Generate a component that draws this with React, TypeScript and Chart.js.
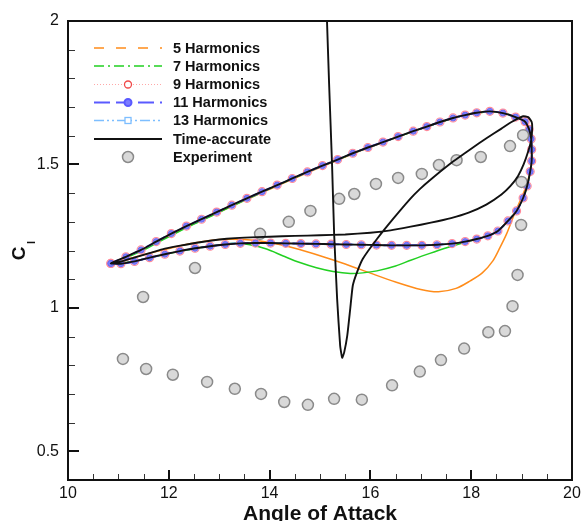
import React, { useEffect, useRef } from "react";
import { Chart, registerables } from "chart.js";

Chart.register(...registerables);

const FONT = '"Liberation Sans", Arial, Helvetica, sans-serif';

// ---- axes ----
const xMin = 10;
const xMax = 20;
const yMin = 0.4;
const yMax = 2;
const xMajorTicks = [10, 12, 14, 16, 18, 20];
const xTickLabels = ["10", "12", "14", "16", "18", "20"];
const xMinorTicks = [10.5, 11, 11.5, 12.5, 13, 13.5, 14.5, 15, 15.5, 16.5, 17, 17.5, 18.5, 19, 19.5];
const yMajorTicks = [0.5, 1, 1.5, 2];
const yTickLabels = ["0.5", "1", "1.5", "2"];
const yMinorTicks = [0.6, 0.7, 0.8, 0.9, 1.1, 1.2, 1.3, 1.4, 1.6, 1.7, 1.8, 1.9];
const xTitle = "Angle of Attack";
const yTitleMain = "C";
const yTitleSub = "l";

// ---- series ----
// 9 / 11 / 13 harmonics (coincident periodic loop)
const loopX = [10.85, 11.15, 11.45, 11.75, 12.05, 12.35, 12.65, 12.95, 13.25, 13.55,
  13.85, 14.15, 14.45, 14.75, 15.05, 15.35, 15.65, 15.95, 16.25, 16.55,
  16.85, 17.12, 17.38, 17.64, 17.88, 18.11, 18.37, 18.63, 18.88, 19.07,
  19.15, 19.19, 19.2, 19.2, 19.17, 19.11, 19.03, 18.9, 18.73, 18.53,
  18.33, 18.11, 17.88, 17.62, 17.32, 17.02, 16.72, 16.42, 16.12, 15.82,
  15.52, 15.22, 14.92, 14.62, 14.32, 14.02, 13.72, 13.42, 13.12, 12.82,
  12.52, 12.22, 11.92, 11.62, 11.32, 11.05, 10.85];
const loopY = [1.155, 1.178, 1.202, 1.231, 1.259, 1.285, 1.309, 1.334, 1.358, 1.382,
  1.405, 1.428, 1.451, 1.474, 1.496, 1.517, 1.539, 1.559, 1.578, 1.597,
  1.616, 1.632, 1.648, 1.662, 1.672, 1.68, 1.685, 1.679, 1.665, 1.649,
  1.622, 1.589, 1.552, 1.512, 1.475, 1.425, 1.383, 1.338, 1.303, 1.268,
  1.251, 1.24, 1.231, 1.224, 1.22, 1.218, 1.218, 1.218, 1.219, 1.22,
  1.221, 1.222, 1.223, 1.224, 1.225, 1.226, 1.226, 1.225, 1.221, 1.215,
  1.208, 1.198, 1.187, 1.175, 1.162, 1.154, 1.155];

// 5 harmonics
const h5X = [10.85, 11.15, 11.45, 11.75, 12.05, 12.35, 12.65, 12.95, 13.25, 13.55,
  13.85, 14.15, 14.45, 14.75, 15.05, 15.35, 15.65, 15.95, 16.25, 16.55,
  16.85, 17.12, 17.38, 17.64, 17.88, 18.11, 18.37, 18.63, 18.88, 19.07,
  19.15, 19.19, 19.2, 19.2, 19.16, 19.08, 18.97, 18.83, 18.7, 18.57,
  18.43, 18.22, 17.98, 17.7, 17.35, 17.0, 16.5, 16.0, 15.5, 15.0,
  14.5, 14.0, 13.5, 13.0, 12.5, 12.0, 11.5, 11.1, 10.85];
const h5Y = [1.155, 1.177, 1.2, 1.228, 1.255, 1.281, 1.305, 1.33, 1.354, 1.378,
  1.402, 1.425, 1.448, 1.471, 1.493, 1.515, 1.537, 1.557, 1.577, 1.596,
  1.615, 1.631, 1.647, 1.661, 1.671, 1.679, 1.684, 1.679, 1.665, 1.648,
  1.621, 1.588, 1.551, 1.51, 1.468, 1.42, 1.373, 1.315, 1.257, 1.21,
  1.164, 1.122, 1.094, 1.068, 1.056, 1.064, 1.09, 1.121, 1.153, 1.182,
  1.208, 1.228, 1.238, 1.238, 1.226, 1.207, 1.185, 1.166, 1.155];

// 7 harmonics
const h7X = [10.85, 11.15, 11.45, 11.75, 12.05, 12.35, 12.65, 12.95, 13.25, 13.55,
  13.85, 14.15, 14.45, 14.75, 15.05, 15.35, 15.65, 15.95, 16.25, 16.55,
  16.85, 17.12, 17.38, 17.64, 17.88, 18.11, 18.37, 18.63, 18.88, 19.07,
  19.15, 19.19, 19.2, 19.2, 19.17, 19.11, 19.03, 18.9, 18.73, 18.53,
  18.33, 18.11, 17.88, 17.58, 17.18, 16.8, 16.5, 16.13, 15.85, 15.6,
  15.26, 14.93, 14.6, 14.27, 13.94, 13.61, 13.3, 13.0, 12.7, 12.4,
  12.1, 11.8, 11.5, 11.2, 10.85];
const h7Y = [1.155, 1.175, 1.197, 1.225, 1.252, 1.279, 1.304, 1.329, 1.354, 1.379,
  1.403, 1.427, 1.45, 1.473, 1.495, 1.516, 1.538, 1.558, 1.577, 1.596,
  1.615, 1.631, 1.647, 1.661, 1.671, 1.679, 1.684, 1.679, 1.665, 1.649,
  1.622, 1.589, 1.552, 1.512, 1.475, 1.425, 1.383, 1.338, 1.303, 1.268,
  1.251, 1.24, 1.229, 1.213, 1.19, 1.166, 1.146, 1.129, 1.122, 1.12,
  1.127, 1.14, 1.158, 1.181, 1.205, 1.22, 1.225, 1.219, 1.212, 1.203,
  1.193, 1.182, 1.17, 1.16, 1.155];

// Time-accurate: start-up transient, first downstroke, then the periodic loop
const taStartX = [15.135, 15.18, 15.24, 15.28, 15.34, 15.4, 15.44, 15.48, 15.54, 15.6,
  15.65, 15.73, 15.85, 16.13, 16.45, 16.79, 16.98, 17.18, 17.64, 18.0,
  18.31, 18.6, 18.8, 19.03, 19.13, 19.2, 19.21, 19.19, 19.13, 19.04,
  18.93, 18.78, 18.6, 18.3, 17.95, 17.6, 17.2, 16.8, 16.4, 16.0,
  15.5, 15.0, 14.5, 14.0, 13.5, 13.15, 12.85, 12.52, 12.2, 11.87,
  11.6, 11.33, 11.1];
const taStartY = [2.02, 1.784, 1.495, 1.261, 1.031, 0.868, 0.826, 0.845, 0.902, 0.997,
  1.077, 1.122, 1.171, 1.24, 1.31, 1.38, 1.414, 1.445, 1.51, 1.555,
  1.592, 1.625, 1.648, 1.668, 1.665, 1.648, 1.627, 1.585, 1.545, 1.5,
  1.46, 1.425, 1.395, 1.36, 1.332, 1.313, 1.297, 1.283, 1.27, 1.262,
  1.256, 1.253, 1.251, 1.248, 1.245, 1.241, 1.235, 1.226, 1.216, 1.204,
  1.19, 1.176, 1.164];

// Experiment
const expX = [11.09, 11.49, 11.55, 12.08, 12.52, 12.76, 13.31, 13.81, 13.83, 14.29,
  14.38, 14.76, 14.81, 15.28, 15.38, 15.68, 15.83, 16.11, 16.43, 16.55,
  16.98, 17.02, 17.36, 17.4, 17.71, 17.86, 18.19, 18.34, 18.67, 18.77,
  18.82, 18.92, 18.99, 19.0, 19.03];
const expY = [0.822, 1.038, 0.787, 0.767, 1.139, 0.742, 0.718, 1.258, 0.7, 0.672,
  1.3, 0.662, 1.338, 0.683, 1.38, 1.397, 0.68, 1.432, 0.73, 1.453,
  0.778, 1.467, 1.498, 0.818, 1.515, 0.858, 1.526, 0.915, 0.919, 1.564,
  1.006, 1.115, 1.289, 1.439, 1.602];

// ---- legend ----
const legendLabels = ["5 Harmonics", "7 Harmonics", "9 Harmonics", "11 Harmonics", "13 Harmonics", "Time-accurate", "Experiment"];

const C5 = "#FF8C1A";
const C7 = "#22D022";
const C9 = "#F04848";
const C9LINE = "#FFA8A8";
const C11 = "#5A5AFF";
const C13 = "#7DBEFF";
const CTA = "#111111";

const pts = (xs: number[], ys: number[]) => xs.map((x, i) => ({ x, y: ys[i] }));

const axesPlugin = {
  id: "axesFrame",
  afterDatasetsDraw(chart: any) {
    const { ctx, chartArea: a, scales } = chart;
    const xs = scales.x;
    const ys = scales.y;
    ctx.save();
    // minor ticks
    ctx.strokeStyle = "#333";
    ctx.lineWidth = 1;
    xMinorTicks.forEach((v) => {
      const p = Math.round(xs.getPixelForValue(v)) + 0.5;
      ctx.beginPath();
      ctx.moveTo(p, a.bottom);
      ctx.lineTo(p, a.bottom - 6);
      ctx.stroke();
    });
    yMinorTicks.forEach((v) => {
      const p = Math.round(ys.getPixelForValue(v)) + 0.5;
      ctx.beginPath();
      ctx.moveTo(a.left, p);
      ctx.lineTo(a.left + 7, p);
      ctx.stroke();
    });
    // major ticks
    ctx.strokeStyle = "#111";
    ctx.lineWidth = 2;
    xMajorTicks.forEach((v) => {
      const p = Math.round(xs.getPixelForValue(v));
      ctx.beginPath();
      ctx.moveTo(p, a.bottom);
      ctx.lineTo(p, a.bottom - 10);
      ctx.stroke();
    });
    yMajorTicks.forEach((v) => {
      const p = Math.round(ys.getPixelForValue(v));
      ctx.beginPath();
      ctx.moveTo(a.left, p);
      ctx.lineTo(a.left + 11, p);
      ctx.stroke();
    });
    // frame
    ctx.lineWidth = 2;
    ctx.strokeRect(a.left, a.top, a.right - a.left, a.bottom - a.top);

    // tick labels
    ctx.fillStyle = "#111";
    ctx.font = `16px ${FONT}`;
    ctx.textAlign = "center";
    ctx.textBaseline = "middle";
    xMajorTicks.forEach((v, i) => {
      ctx.fillText(xTickLabels[i], xs.getPixelForValue(v), a.bottom + 14);
    });
    ctx.textAlign = "right";
    yMajorTicks.forEach((v, i) => {
      ctx.fillText(yTickLabels[i], a.left - 9, ys.getPixelForValue(v));
    });

    // axis titles
    ctx.font = `bold 21px ${FONT}`;
    ctx.textAlign = "center";
    ctx.textBaseline = "alphabetic";
    ctx.fillText(xTitle, (a.left + a.right) / 2, 520);

    ctx.save();
    ctx.translate(25, (a.top + a.bottom) / 2 + 3);
    ctx.rotate(-Math.PI / 2);
    ctx.font = `bold 19px ${FONT}`;
    ctx.textAlign = "center";
    ctx.fillText(yTitleMain, 0, 0);
    ctx.font = `bold 11px ${FONT}`;
    ctx.fillText(yTitleSub, 11, 10);
    ctx.restore();

    // legend
    const lx0 = 94;
    const lx1 = 162;
    const mx = 128;
    const tx = 173;
    const rows = [48, 66, 84.5, 102.5, 120.5, 139, 157];
    const line = (y: number, color: string, width: number, dash: number[]) => {
      ctx.save();
      ctx.strokeStyle = color;
      ctx.lineWidth = width;
      ctx.setLineDash(dash);
      ctx.beginPath();
      ctx.moveTo(lx0, y);
      ctx.lineTo(lx1, y);
      ctx.stroke();
      ctx.restore();
    };
    line(rows[0], C5, 1.5, [10, 12]);
    line(rows[1], C7, 1.5, [10, 4, 2, 4]);
    line(rows[2], C9LINE, 1, [1, 2]);
    ctx.save();
    ctx.strokeStyle = C9;
    ctx.fillStyle = "#fff";
    ctx.lineWidth = 1.3;
    ctx.beginPath();
    ctx.arc(mx, rows[2], 3.5, 0, Math.PI * 2);
    ctx.fill();
    ctx.stroke();
    ctx.restore();
    line(rows[3], C11, 2, [16, 6]);
    ctx.save();
    ctx.fillStyle = "#7C7CFF";
    ctx.strokeStyle = C11;
    ctx.beginPath();
    ctx.arc(mx, rows[3], 3.5, 0, Math.PI * 2);
    ctx.fill();
    ctx.stroke();
    ctx.restore();
    line(rows[4], C13, 1.5, [10, 3, 2, 3, 2, 3]);
    ctx.save();
    ctx.strokeStyle = C13;
    ctx.fillStyle = "#fff";
    ctx.lineWidth = 1.3;
    ctx.fillRect(mx - 3, rows[4] - 3, 6, 6);
    ctx.strokeRect(mx - 3, rows[4] - 3, 6, 6);
    ctx.restore();
    line(rows[5], CTA, 2, []);
    ctx.save();
    ctx.fillStyle = "#D9D9D9";
    ctx.strokeStyle = "#8A8A8A";
    ctx.lineWidth = 1.5;
    ctx.beginPath();
    ctx.arc(mx, rows[6], 5.5, 0, Math.PI * 2);
    ctx.fill();
    ctx.stroke();
    ctx.restore();

    ctx.fillStyle = "#111";
    ctx.font = `bold 14.5px ${FONT}`;
    ctx.textAlign = "left";
    ctx.textBaseline = "middle";
    legendLabels.forEach((t, i) => ctx.fillText(t, tx, rows[i] + 0.5));
    ctx.restore();
  },
};

export default function App() {
  const ref = useRef<HTMLCanvasElement | null>(null);
  useEffect(() => {
    if (!ref.current) return;
    const taX = taStartX.concat(loopX);
    const taY = taStartY.concat(loopY);
    const chart = new Chart(ref.current, {
      type: "scatter",
      data: {
        datasets: [
          {
            label: legendLabels[5],
            data: pts(taX, taY),
            showLine: true,
            borderColor: CTA,
            borderWidth: 1.9,
            pointRadius: 0,
            tension: 0.15,
            order: 0,
          },
          {
            label: legendLabels[6],
            data: pts(expX, expY),
            showLine: false,
            pointRadius: 5.5,
            pointBackgroundColor: "#D9D9D9",
            pointBorderColor: "#8A8A8A",
            pointBorderWidth: 1.5,
            order: 1,
          },
          {
            label: legendLabels[3],
            data: pts(loopX, loopY),
            showLine: true,
            borderColor: C11,
            borderWidth: 2,
            borderDash: [8, 5],
            pointRadius: 3,
            pointBackgroundColor: "#7C7CFF",
            pointBorderColor: "#6B6BF0",
            pointBorderWidth: 1,
            tension: 0.3,
            order: 2,
          },
          {
            label: legendLabels[2],
            data: pts(loopX, loopY),
            showLine: true,
            borderColor: C9LINE,
            borderWidth: 1,
            borderDash: [1, 2],
            pointRadius: 4,
            pointBackgroundColor: "rgba(255,255,255,0)",
            pointBorderColor: "#FF8A9A",
            pointBorderWidth: 1.2,
            tension: 0.3,
            order: 3,
          },
          {
            label: legendLabels[4],
            data: pts(loopX, loopY),
            showLine: true,
            borderColor: C13,
            borderWidth: 1.5,
            borderDash: [10, 3, 2, 3, 2, 3],
            pointStyle: "rect",
            pointRadius: 3,
            pointBackgroundColor: "#fff",
            pointBorderColor: C13,
            pointBorderWidth: 1,
            tension: 0.3,
            order: 4,
          },
          {
            label: legendLabels[1],
            data: pts(h7X, h7Y),
            showLine: true,
            borderColor: C7,
            borderWidth: 1.5,
            pointRadius: 0,
            tension: 0.3,
            order: 5,
          },
          {
            label: legendLabels[0],
            data: pts(h5X, h5Y),
            showLine: true,
            borderColor: C5,
            borderWidth: 1.5,
            pointRadius: 0,
            tension: 0.3,
            order: 6,
          },
        ],
      },
      options: {
        animation: false,
        responsive: false,
        events: [],
        layout: { padding: { left: 68, right: 11, top: 21, bottom: 41 } },
        scales: {
          x: { type: "linear", min: xMin, max: xMax, display: false },
          y: { type: "linear", min: yMin, max: yMax, display: false },
        },
        plugins: { legend: { display: false }, tooltip: { enabled: false } },
      },
      plugins: [axesPlugin],
    });
    return () => chart.destroy();
  }, []);
  return (
    <div style={{ position: "absolute", left: 0, top: 0, width: 583, height: 521, background: "#fff" }}>
      <canvas ref={ref} width={583} height={521} style={{ width: 583, height: 521, display: "block" }} />
    </div>
  );
}
